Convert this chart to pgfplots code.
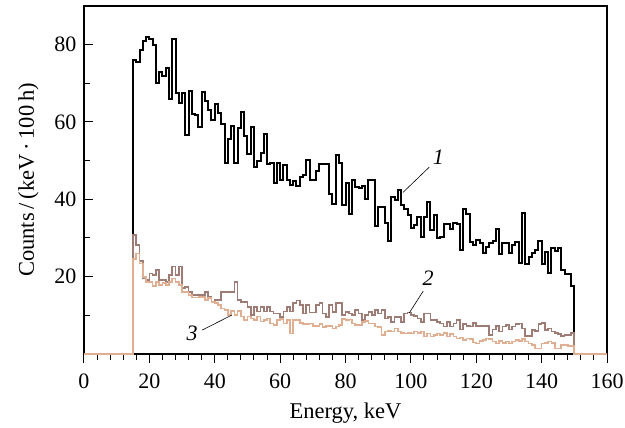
\documentclass[border=0pt]{standalone}
\usepackage{fontspec}
\setmainfont{Liberation Serif}
\usepackage{pgfplots}
\pgfplotsset{compat=1.18}
\usepackage{pgfplotstable}
\definecolor{cmauve}{RGB}{158,124,118}
\definecolor{ctan}{RGB}{224,174,145}

\pgfplotstableread{
e s1 s2 s3
0 0 0 0
15 76 30.7 24.5
16 75.5 28.2 26.0
17 78.5 24.0 23.4
18 81 19.5 20.0
19 82 19.1 18.7
20 81.5 20.8 18.7
21 80 20.5 17.5
22 70 21.8 18.7
23 73 19.1 17.8
24 72 19.2 18.4
25 74 18.6 17.8
26 66 20.5 18.7
27 81.5 22.6 19.5
28 67.5 20.5 18.7
29 65 22.6 17.8
30 67.5 17.0 16.1
31 56.7 17.3 16.1
32 68 16.1 15.2
33 62 15.2 14.6
34 61.7 15.2 14.6
35 58.7 15.2 14.8
36 67.7 15.2 14.8
37 65.4 16.1 13.9
38 63 14.8 14.4
39 60.6 13.5 13.5
40 64.6 13.9 13.1
41 62.2 13.9 12.7
42 59.4 16.1 11.8
43 49.3 16.1 11.4
44 55.5 16.1 10.1
45 58.9 16.1 11.2
46 49.3 18.7 10.1
47 58.5 13.9 11.2
48 62.6 13.5 9.7
49 56.4 13.5 8.8
50 51.8 12.1 9.7
51 58.7 10.1 9.2
52 48.4 12.1 8.8
53 49.9 11.0 9.7
54 52.1 12.1 8.4
55 57 11.0 8.8
56 49.1 12.1 9.2
57 49.4 11.0 7.9
58 44.2 10.5 7.5
59 49.3 10.5 8.8
60 45.1 9.6 9.0
61 49 11.0 7.9
62 45 12.2 8.8
63 43.6 11.0 5.3
64 44.7 13.1 8.8
65 43.4 13.8 8.8
66 45.8 12.65 8.1
67 46.2 10.5 7.7
68 50.1 12.65 7.7
69 44.9 10.7 7.9
70 44.9 10.7 7.2
71 47.3 12.65 7.2
72 49.1 13.1 7.75
73 49.1 10.5 6.9
74 49.1 9.6 7.2
75 41.5 12.65 7.2
76 38.7 10.9 6.6
77 51.4 13.1 7.1
78 49.4 13.1 7.5
79 38.5 10.1 9.0
80 44.2 10.9 8.8
81 36.1 10.5 8.95
82 44.9 10.1 7.9
83 43.1 11.4 7.5
84 42.8 10.5 7.5
85 43.4 8.8 8.35
86 40.2 10.1 8.6
87 44.9 10.9 7.9
88 44.9 10.1 7.9
89 33.1 11.4 7.1
90 37.9 10.5 6.9
91 37.9 11.4 4.9
92 33.9 9.2 5.8
93 29.2 9.6 6.0
94 40.5 8.35 5.8
95 39.8 9.6 6.6
96 42.4 9.6 5.8
97 38.5 8.35 5.5
98 37.6 10.5 5.3
99 35.9 10.7 5.5
100 32.6 10.1 5.3
101 33.3 9.8 5.8
102 35.3 9.2 5.5
103 30.3 8.35 5.8
104 35.5 10.5 4.5
105 39.3 10.5 5.3
106 32.0 8.8 4.5
107 35.9 8.8 4.9
108 30.1 8.35 5.3
109 30.3 7.9 4.9
110 33.7 7.1 5.4
111 33.7 8.3 4.5
112 32.4 7.1 5.2
113 33.9 7.9 4.5
114 33.7 8.8 4.0
115 27.0 6.3 4.3
116 37.4 7.8 3.6
117 36.3 7.2 4.0
118 29.0 7.1 3.8
119 28.2 8.1 3.0
120 29.6 7.3 2.7
121 28.6 7.3 3.4
122 26.2 7.3 3.6
123 27.7 7.3 4.0
124 28.7 5.0 3.8
125 29.3 6.3 3.2
126 32.2 7.2 2.7
127 25.8 5.8 3.4
128 28.7 7.1 2.9
129 28.6 7.5 3.2
130 26.2 6.3 2.7
131 28.2 7.1 3.2
132 29.0 7.8 3.6
133 23.6 7.9 3.4
134 36.5 6.6 3.8
135 23.4 4.7 3.2
136 25.0 4.7 2.7
137 26.2 6.2 2.3
138 26.9 6.0 1.4
139 29.3 7.8 1.4
140 23.4 8.1 2.7
141 26.5 6.2 2.9
142 21.0 6.6 3.2
143 27.5 5.8 2.9
144 26.6 5.4 1.4
145 27.5 5.2 1.4
146 21.7 4.7 2.3
147 20.8 5.0 2.3
148 20.8 5.0 2.0
149 17.6 5.4 2.0
150 0 0 0
160 0 0 0
}\data

\begin{document}
\begin{tikzpicture}
\begin{axis}[
  scale only axis, width=523pt, height=348pt,
  xmin=0, xmax=160, ymin=0, ymax=90,
  xtick={0,20,...,160}, minor x tick num=4,
  ytick={20,40,60,80}, minor ytick={10,30,50,70},
  xtick pos=bottom, ytick pos=left,
  xtick align=outside, ytick align=inside,
  major tick length=9pt, minor tick length=6pt,
  axis line style={line width=1.2pt},
  every tick/.style={black, line width=1pt},
  tick label style={font=\fontsize{22}{26}\selectfont},
  label style={font=\fontsize{22.5}{26}\selectfont},
  xticklabel style={yshift=-7pt},
  yticklabel style={xshift=-4pt},
  xlabel style={yshift=-8pt},
  ylabel style={yshift=9pt},
  /pgf/number format/assume math mode=true,
  xlabel={Energy, keV},
  ylabel={Counts\,/\,(keV\,·\,100\,h)},
  clip=false,
]
\addplot[const plot, line width=2pt, black] table[x=e,y=s1]{\data};
\addplot[const plot, line width=1.7pt, cmauve] table[x=e,y=s2]{\data};
\addplot[const plot, line width=1.7pt, ctan] table[x=e,y=s3]{\data};
\node[font=\itshape\fontsize{22}{26}\selectfont] at (axis cs:108.4,50.9) {1};
\draw[line width=0.6pt] (axis cs:105.6,48.3) -- (axis cs:97.6,41.8);
\node[font=\itshape\fontsize{22}{26}\selectfont] at (axis cs:105.3,19.6) {2};
\draw[line width=0.6pt] (axis cs:103.8,16.3) -- (axis cs:99.5,10.6);
\node[font=\itshape\fontsize{22}{26}\selectfont] at (axis cs:33.1,5.4) {3};
\draw[line width=0.6pt] (axis cs:36.2,6.2) -- (axis cs:45.3,10.1);
\end{axis}
\pgfresetboundingbox
\path ([xshift=-84pt,yshift=-74pt]current axis.south west) rectangle ([xshift=18pt,yshift=6pt]current axis.north east);
\end{tikzpicture}
\end{document}
